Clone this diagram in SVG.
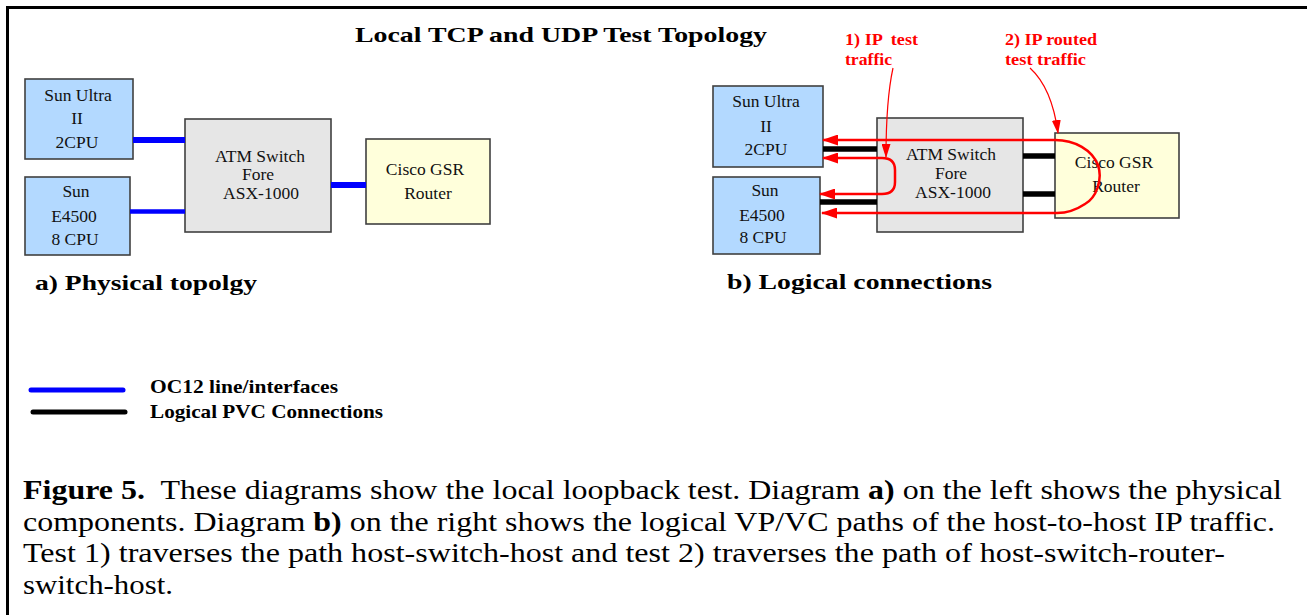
<svg xmlns="http://www.w3.org/2000/svg" width="1307" height="615" viewBox="0 0 1307 615">
<defs>
<style>
.box{stroke:#404040;stroke-width:1.6}
.host{fill:#B3D9FF}
.sw{fill:#E6E6E6}
.rt{fill:#FFFFDB}
.lbl{font-family:"Liberation Serif","Times New Roman",serif;font-size:17.5px;fill:#111;text-anchor:middle}
.bold{font-family:"Liberation Serif","Times New Roman",serif;font-weight:bold;fill:#000}
.red{font-family:"Liberation Serif","Times New Roman",serif;font-weight:bold;fill:#FF0000;font-size:16px}
.cap{font-family:"Liberation Serif","Times New Roman",serif;font-size:26.5px;fill:#000;white-space:pre}
.oc{stroke:#0000FF;fill:none}
.pvc{stroke:#000;stroke-width:5.5;fill:none}
.path{stroke:#FF0000;stroke-width:2.5;fill:none}
.ann{stroke:#FF0000;stroke-width:1.2;fill:none}
</style>
<marker id="ah" viewBox="0 0 16 11" refX="15" refY="5.5" markerUnits="userSpaceOnUse" markerWidth="16" markerHeight="11" orient="auto-start-reverse">
<path d="M0 0 L16 5.5 L0 11 z" fill="#FF0000"/>
</marker>
<marker id="ah2" viewBox="0 0 14 9" refX="13" refY="4.5" markerUnits="userSpaceOnUse" markerWidth="14" markerHeight="9" orient="auto">
<path d="M0 0 L14 4.5 L0 9 z" fill="#FF0000"/>
</marker>
</defs>
<rect width="1307" height="615" fill="#FFFFFF"/>
<path d="M7.5 615 V7.5 H1307" stroke="#000" stroke-width="3" fill="none"/>

<text class="bold" x="355" y="42" font-size="21" textLength="412" lengthAdjust="spacingAndGlyphs">Local TCP and UDP Test Topology</text>

<!-- Left: physical topology -->
<g id="a-sun-ultra">
<rect class="box host" x="25" y="79" width="108" height="80"/>
<text class="lbl" x="78" y="101">Sun Ultra</text>
<text class="lbl" x="77" y="124">II</text>
<text class="lbl" x="77" y="148">2CPU</text>
</g>
<g id="a-sun-e4500">
<rect class="box host" x="25" y="177" width="105" height="78"/>
<text class="lbl" x="76" y="197">Sun</text>
<text class="lbl" x="74" y="222">E4500</text>
<text class="lbl" x="75" y="245">8 CPU</text>
</g>
<g id="a-atm">
<rect class="box sw" x="185" y="119" width="146" height="113"/>
<text class="lbl" x="260" y="162">ATM Switch</text>
<text class="lbl" x="258" y="180">Fore</text>
<text class="lbl" x="261" y="199">ASX-1000</text>
</g>
<g id="a-cisco">
<rect class="box rt" x="366" y="139" width="124" height="85"/>
<text class="lbl" x="425" y="175">Cisco GSR</text>
<text class="lbl" x="428" y="199">Router</text>
</g>
<text class="bold" x="35" y="290" font-size="22" textLength="222" lengthAdjust="spacingAndGlyphs">a) Physical topolgy</text>

<!-- Right: logical connections -->
<g id="b-sun-ultra">
<rect class="box host" x="713" y="86" width="110" height="81"/>
<text class="lbl" x="766" y="107">Sun Ultra</text>
<text class="lbl" x="766" y="132">II</text>
<text class="lbl" x="766" y="155">2CPU</text>
</g>
<g id="b-sun-e4500">
<rect class="box host" x="713" y="177" width="107" height="77"/>
<text class="lbl" x="765" y="196">Sun</text>
<text class="lbl" x="762" y="221">E4500</text>
<text class="lbl" x="763" y="243">8 CPU</text>
</g>
<g id="b-atm">
<rect class="box sw" x="877" y="118" width="146" height="114"/>
<text class="lbl" x="951" y="160">ATM Switch</text>
<text class="lbl" x="951" y="179">Fore</text>
<text class="lbl" x="953" y="198">ASX-1000</text>
</g>
<g id="b-cisco">
<rect class="box rt" x="1055" y="133" width="124" height="85"/>
<text class="lbl" x="1114" y="168">Cisco GSR</text>
<text class="lbl" x="1116" y="192">Router</text>
</g>
<text class="bold" x="727" y="289" font-size="22" textLength="265" lengthAdjust="spacingAndGlyphs">b) Logical connections</text>

<g id="connectors">
<line class="oc" x1="133" y1="140" x2="185" y2="140" stroke-width="6"/>
<line class="oc" x1="130" y1="211.5" x2="185" y2="211.5" stroke-width="4.5"/>
<line class="oc" x1="331" y1="185" x2="366" y2="185" stroke-width="6"/>

<line class="pvc" x1="823" y1="149" x2="877" y2="149"/>
<line class="pvc" x1="820" y1="202" x2="877" y2="202"/>
<line class="pvc" x1="1023" y1="156" x2="1055" y2="156"/>
<line class="pvc" x1="1023" y1="194" x2="1055" y2="194"/>

<path class="path" d="M823 140 H1055 C1075 140 1092 150 1098 165 C1103 180 1096 198 1085 204 C1076 210 1068 213 1057 213 H822" marker-start="url(#ah)" marker-end="url(#ah)"/>
<path class="path" d="M823 158 H882 Q895 158 895 170 V182 Q895 194 882 194 H820" marker-start="url(#ah)" marker-end="url(#ah)"/>

<path class="ann" d="M893 68 Q886 100 886 157" marker-end="url(#ah2)"/>
<path class="ann" d="M1030 68 Q1052 88 1058 133" marker-end="url(#ah2)"/>
</g>

<text class="red" x="845" y="45" textLength="73" lengthAdjust="spacingAndGlyphs" style="white-space:pre">1) IP  test</text>
<text class="red" x="845" y="65" textLength="47" lengthAdjust="spacingAndGlyphs">traffic</text>
<text class="red" x="1005" y="45" textLength="92" lengthAdjust="spacingAndGlyphs">2) IP routed</text>
<text class="red" x="1005" y="65" textLength="81" lengthAdjust="spacingAndGlyphs">test traffic</text>

<!-- Legend -->
<g id="legend">
<line x1="31" y1="390" x2="123" y2="390" stroke="#0000FF" stroke-width="5" stroke-linecap="round"/>
<line x1="33" y1="412" x2="125" y2="412" stroke="#000" stroke-width="5" stroke-linecap="round"/>
<text class="bold" x="150" y="393" font-size="19" textLength="188" lengthAdjust="spacingAndGlyphs">OC12 line/interfaces</text>
<text class="bold" x="150" y="418" font-size="19" textLength="233" lengthAdjust="spacingAndGlyphs">Logical PVC Connections</text>
</g>

<!-- Caption -->
<text class="cap" x="23" y="499" textLength="1259" lengthAdjust="spacingAndGlyphs"><tspan font-weight="bold">Figure 5.</tspan>  These diagrams show the local loopback test. Diagram <tspan font-weight="bold">a)</tspan> on the left shows the physical</text>
<text class="cap" x="23" y="531" textLength="1252" lengthAdjust="spacingAndGlyphs">components. Diagram <tspan font-weight="bold">b)</tspan> on the right shows the logical VP/VC paths of the host-to-host IP traffic.</text>
<text class="cap" x="23" y="562" textLength="1202" lengthAdjust="spacingAndGlyphs">Test 1) traverses the path host-switch-host and test 2) traverses the path of host-switch-router-</text>
<text class="cap" x="23" y="594" textLength="150" lengthAdjust="spacingAndGlyphs">switch-host.</text>
</svg>
